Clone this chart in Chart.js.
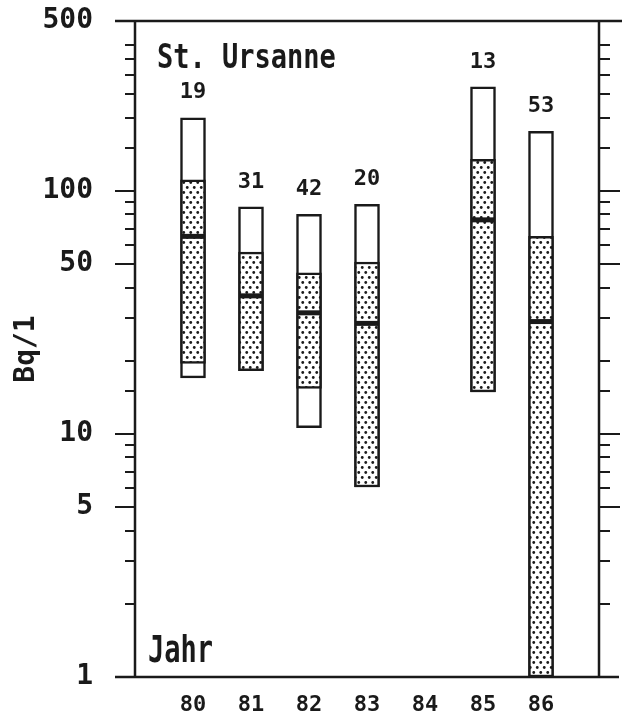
<!DOCTYPE html>
<html><head><meta charset="utf-8">
<script src="https://cdn.jsdelivr.net/npm/chart.js@4"></script>
<style>html,body{margin:0;padding:0;background:#fff}#wrap{width:622px;height:719px}</style>
</head><body><div id="wrap"><canvas id="c" width="622" height="719"></canvas></div>
<script>
const years = [80, 81, 82, 83, 85, 86];
const counts = [19, 31, 42, 20, 13, 53];
const maxVals = [200, 86, 80, 88, 268, 176];
const q3Vals = [111, 56, 46, 51, 135, 65];
const medianVals = [65, 37, 31.5, 28.5, 76, 29];
const q1Vals = [19.5, 18.2, 15.4, 6.05, 14.9, 1];
const minVals = [17, 18.2, 10.6, 6.05, 14.9, 1];
const yearTicks = [80, 81, 82, 83, 84, 85, 86];
const yTickValues = [1,2,3,4,5,6,7,8,9,10,15,20,30,40,50,60,70,80,90,100,150,200,250,300,350,400,500];
const yLabelValues = [1, 5, 10, 50, 100, 500];
const yMajorTicks = [5, 10, 50, 100];
const titleText = 'St. Ursanne';
const xTitleText = 'Jahr';
const yTitleText = 'Bq/1';

const INK = '#1a1a1a';
const FONT = 'DejaVu Sans Mono';

// dotted fill pattern
const tile = document.createElement('canvas');
tile.width = 7; tile.height = 10;
const tc = tile.getContext('2d');
tc.fillStyle = '#fff'; tc.fillRect(0, 0, 7, 10);
tc.fillStyle = INK;
tc.beginPath(); tc.arc(1.75, 2.5, 1.4, 0, Math.PI * 2); tc.fill();
tc.beginPath(); tc.arc(5.25, 7.5, 1.4, 0, Math.PI * 2); tc.fill();
const dots = document.getElementById('c').getContext('2d').createPattern(tile, 'repeat');

const framePlugin = {
  id: 'frame',
  afterDatasetsDraw(chart) {
    const ctx = chart.ctx;
    const xs = chart.scales.x, ys = chart.scales.y;
    const top = ys.getPixelForValue(500), bot = ys.getPixelForValue(1);
    const left = xs.getPixelForValue(79), right = xs.getPixelForValue(87);
    ctx.save();
    ctx.strokeStyle = INK;
    ctx.lineCap = 'butt';
    ctx.lineWidth = 2.5;
    ctx.beginPath();
    ctx.moveTo(left - 20, top); ctx.lineTo(622, top);
    ctx.moveTo(left - 20, bot); ctx.lineTo(619, bot);
    ctx.moveTo(left, top); ctx.lineTo(left, bot);
    ctx.moveTo(right, top); ctx.lineTo(right, bot);
    ctx.stroke();
    ctx.lineWidth = 2;
    ctx.beginPath();
    yTickValues.forEach(v => {
      if (v === 1 || v === 500) return;
      const y = Math.round(ys.getPixelForValue(v));
      const major = yMajorTicks.includes(v);
      ctx.moveTo(left - (major ? 20 : 10), y); ctx.lineTo(left, y);
      ctx.moveTo(right, y); ctx.lineTo(right + (major ? 21 : 11), y);
    });
    ctx.stroke();

    ctx.fillStyle = INK;
    ctx.font = 'bold 22px "' + FONT + '"';
    ctx.textAlign = 'center';
    ctx.textBaseline = 'middle';
    years.forEach((yr, i) => {
      const x = xs.getPixelForValue(yr);
      const y = ys.getPixelForValue(maxVals[i]) - 25;
      ctx.fillText(String(counts[i]), x, y);
    });

    ctx.textAlign = 'left';
    ctx.textBaseline = 'alphabetic';
    ctx.font = 'bold 27px "' + FONT + '"';
    ctx.save();
    ctx.translate(left + 22, top + 47);
    ctx.scale(1, 1.25);
    ctx.fillText(titleText, 0, 0);
    ctx.restore();
    ctx.save();
    ctx.translate(left + 13, bot - 15);
    ctx.scale(1, 1.35);
    ctx.fillText(xTitleText, 0, 0);
    ctx.restore();
    ctx.restore();
  }
};

new Chart(document.getElementById('c'), {
  type: 'bar',
  data: {
    datasets: [
      {
        type: 'line', label: 'Median',
        data: years.map((x, i) => ({ x, y: medianVals[i] })),
        showLine: false, pointStyle: 'line', pointRadius: 12, pointHoverRadius: 12,
        pointBorderWidth: 5, pointBorderColor: INK, borderColor: INK, order: 0
      },
      {
        type: 'bar', label: 'Quartile',
        data: years.map((x, i) => ({ x, y: [q1Vals[i], q3Vals[i]] })),
        backgroundColor: dots, borderColor: INK, borderWidth: 2.5, borderSkipped: false,
        barThickness: 25, grouped: false, order: 1
      },
      {
        type: 'bar', label: 'Range',
        data: years.map((x, i) => ({ x, y: [minVals[i], maxVals[i]] })),
        backgroundColor: '#fff', borderColor: INK, borderWidth: 2.5, borderSkipped: false,
        barThickness: 25, grouped: false, order: 2
      }
    ]
  },
  options: {
    responsive: false,
    devicePixelRatio: 1,
    animation: false,
    layout: { autoPadding: false, padding: { top: 21, right: 23, left: 0, bottom: 0 } },
    plugins: { legend: { display: false }, tooltip: { enabled: false } },
    scales: {
      x: {
        type: 'linear', min: 79, max: 87, offset: false,
        afterBuildTicks: s => { s.ticks = yearTicks.map(v => ({ value: v })); },
        ticks: { font: { family: FONT, weight: 'bold', size: 22 }, color: INK, padding: 15, autoSkip: false, maxRotation: 0, callback: v => String(v) },
        grid: { display: false, drawTicks: false, offset: false },
        border: { display: false },
        afterFit: s => { s.height = 42; }
      },
      y: {
        type: 'logarithmic', min: 1, max: 500,
        afterBuildTicks: s => { s.ticks = yTickValues.map(v => ({ value: v })); },
        ticks: { font: { family: FONT, weight: 'bold', size: 28 }, color: INK, padding: 0, autoSkip: false,
          callback: v => yLabelValues.includes(v) ? String(v) : '' },
        grid: { display: false, drawTicks: true, tickLength: 42 },
        border: { display: false },
        title: { display: true, text: yTitleText, color: INK, font: { family: FONT, weight: 'bold', size: 28 }, padding: { top: 10, bottom: 0 } },
        afterFit: s => { s.width = 135; }
      }
    }
  },
  plugins: [framePlugin]
});
</script>
</body></html>
